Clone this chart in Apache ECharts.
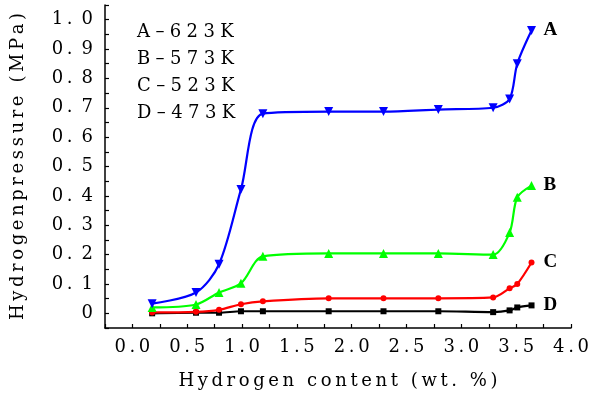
<!DOCTYPE html>
<html>
<head>
<meta charset="utf-8">
<script src="https://cdn.jsdelivr.net/npm/echarts@6/dist/echarts.min.js"></script>
<style>
html,body{margin:0;padding:0;background:#fff;}
#chart{width:593px;height:401px;}
</style>
</head>
<body>
<div id="chart"></div>
<script>
// ---- data ----
const hydrogenContent = [0.18, 0.58, 0.79, 0.99, 1.19, 1.79, 2.29, 2.79, 3.29, 3.44, 3.51, 3.64];
const pressureA = [0.033, 0.071, 0.167, 0.422, 0.680, 0.687, 0.687, 0.694, 0.700, 0.730, 0.850, 0.963];
const pressureB = [0.020, 0.030, 0.071, 0.102, 0.194, 0.204, 0.204, 0.204, 0.200, 0.275, 0.395, 0.435];
const pressureC = [0.003, 0.005, 0.012, 0.031, 0.041, 0.051, 0.051, 0.051, 0.054, 0.085, 0.100, 0.173];
const pressureD = [0.000, 0.002, 0.002, 0.007, 0.007, 0.007, 0.007, 0.007, 0.004, 0.010, 0.020, 0.027];
const seriesNames = ['A', 'B', 'C', 'D'];
const legendLines = ['A\u2013623K', 'B\u2013573K', 'C\u2013523K', 'D\u2013473K'];
const xTitle = 'Hydrogen content (wt. %)';
const yTitle = 'Hydrogenpressure (MPa)';

const FONT = '"DejaVu Serif", serif';
const TS = '\u2009';
function sp(s) { return s.split('').join(TS); }

function pairs(ys) { return hydrogenContent.map((x, i) => [x, ys[i]]); }

const styles = [
  { color: '#0000ff', symbol: 'triangle', size: 9, rotate: 180, data: pressureA },
  { color: '#00ff00', symbol: 'triangle', size: 9, rotate: 0, data: pressureB },
  { color: '#ff0000', symbol: 'circle', size: 6, rotate: 0, data: pressureC },
  { color: '#000000', symbol: 'rect', size: 6, rotate: 0, data: pressureD }
];

const chart = echarts.init(document.getElementById('chart'), null, { renderer: 'canvas' });

const option = {
  animation: false,
  backgroundColor: '#ffffff',
  grid: { left: 105, right: 22, top: 5, bottom: 73, containLabel: false },
  xAxis: {
    type: 'value', min: -0.25, max: 4.0, interval: 0.25,
    name: sp(xTitle), nameLocation: 'middle', nameGap: 44,
    nameTextStyle: { fontFamily: FONT, fontSize: 18, color: '#000' },
    axisLine: { show: true, onZero: false, lineStyle: { color: '#000', width: 1.5 } },
    axisTick: { show: true, inside: true, length: 4, lineStyle: { color: '#000', width: 1.2 } },
    axisLabel: {
      fontFamily: FONT, fontSize: 18, color: '#000', margin: 10, showMinLabel: true, showMaxLabel: true,
      formatter: function (v) {
        const r = Math.round(v * 100) / 100;
        if (r < 0 || Math.abs(r * 2 - Math.round(r * 2)) > 1e-6) return '';
        return sp(r.toFixed(1));
      }
    },
    splitLine: { show: false }
  },
  yAxis: {
    type: 'value', min: -0.05, max: 1.05, interval: 0.05,
    name: sp(yTitle), nameLocation: 'middle', nameGap: 78,
    nameTextStyle: { fontFamily: FONT, fontSize: 18, color: '#000' },
    axisLine: { show: true, onZero: false, lineStyle: { color: '#000', width: 1.5 } },
    axisTick: { show: true, inside: true, length: 4, lineStyle: { color: '#000', width: 1.2 } },
    axisLabel: {
      fontFamily: FONT, fontSize: 18, color: '#000', margin: 12, showMinLabel: true, showMaxLabel: true,
      formatter: function (v) {
        const r = Math.round(v * 100) / 100;
        if (r < 0 || Math.abs(r * 10 - Math.round(r * 10)) > 1e-6) return '';
        if (r === 0) return '0';
        const s = r.toFixed(1);
        return s[0] + TS + '.' + '\u2002' + s[2];
      }
    },
    splitLine: { show: false }
  },
  graphic: [{
    type: 'text', left: 137, top: 19,
    style: {
      text: legendLines.map(s => s.split('').join('\u2009\u200A')).join('\n'),
      font: '18px ' + FONT, lineHeight: 27, fill: '#000'
    }
  }],
  series: styles.map((s, i) => ({
    name: seriesNames[i],
    type: 'line',
    data: pairs(s.data),
    smooth: 0.3,
    symbol: s.symbol,
    symbolSize: s.size,
    symbolRotate: s.rotate,
    showAllSymbol: true,
    lineStyle: { color: s.color, width: 2.2 },
    itemStyle: { color: s.color },
    endLabel: {
      show: true, formatter: seriesNames[i], distance: 12,
      fontFamily: '"Liberation Serif", serif', fontWeight: 'bold', fontSize: 19, color: '#000'
    },
    z: 10 - i
  }))
};
chart.setOption(option);
</script>
</body>
</html>
